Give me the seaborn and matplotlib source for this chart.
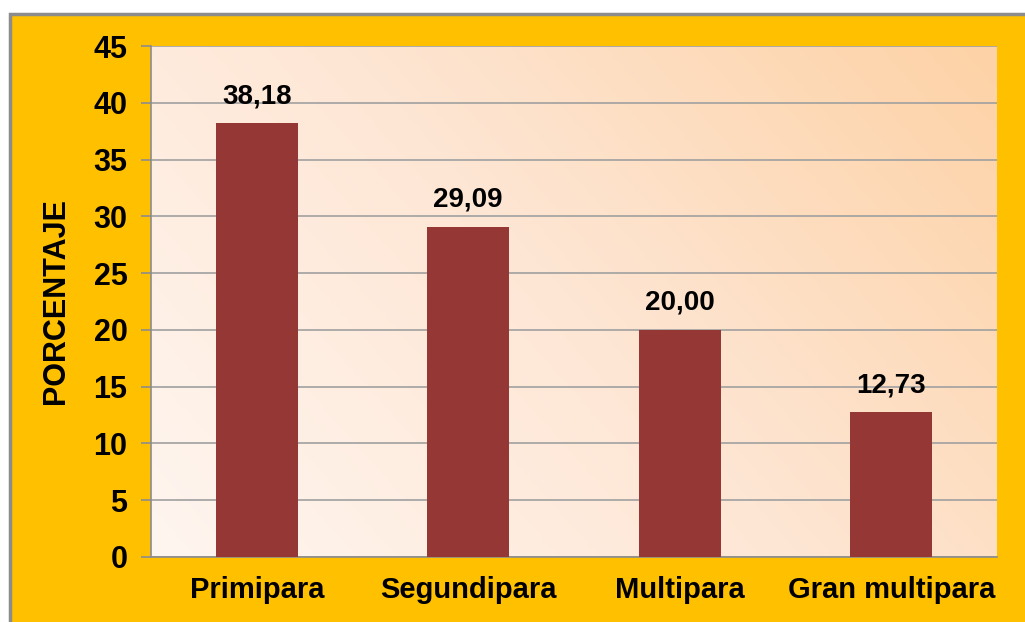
import numpy as np
import pandas as pd
import matplotlib
matplotlib.use('Agg')
import matplotlib.pyplot as plt
from matplotlib.colors import LinearSegmentedColormap
from matplotlib.patches import Rectangle
import seaborn as sns

categories = ['Primipara', 'Segundipara', 'Multipara', 'Gran multipara']
values = [38.18, 29.09, 20.00, 12.73]
value_labels = ['38,18', '29,09', '20,00', '12,73']
y_ticks = [0, 5, 10, 15, 20, 25, 30, 35, 40, 45]

df = pd.DataFrame({'categoria': categories, 'porcentaje': values})

sns.set_theme(style='white')
plt.rcParams['font.family'] = ['Liberation Sans', 'DejaVu Sans']
plt.rcParams['font.weight'] = 'bold'

fig = plt.figure(figsize=(10.25, 6.22), dpi=100, facecolor='white')

# orange frame with grey outline
frame = Rectangle((10 / 1025, -0.05), 1.1, 1 - 14 / 622 + 0.05, transform=fig.transFigure,
                  facecolor='#FFC000', edgecolor='#8C8C8C', linewidth=2.5, zorder=-10)
fig.patches.append(frame)

ax = fig.add_axes([151 / 1025, 1 - 557 / 622, (997 - 151) / 1025, (557 - 46) / 622])
ax.set_facecolor('none')

# gradient background of the plot area
gx, gy = np.meshgrid(np.linspace(0, 1, 300), np.linspace(0, 1, 200))
t = 0.65 * gx + 0.35 * gy
cmap = LinearSegmentedColormap.from_list('peach', ['#FFF6F0', '#FEE6D4', '#FDD2A6'])
ax.imshow(t, cmap=cmap, extent=[-0.5, 3.5, 0, 45], origin='lower', aspect='auto',
          zorder=-2, vmin=0, vmax=1)

sns.barplot(data=df, x='categoria', y='porcentaje', color='#953735', saturation=1,
            width=0.39, ax=ax, zorder=3, edgecolor='none')

for i, (v, lab) in enumerate(zip(values, value_labels)):
    ax.annotate(lab, (i, v), xytext=(0, 10), textcoords='offset points',
                ha='center', va='bottom', fontsize=20, fontweight='bold', color='black')

ax.set_xlim(-0.5, 3.5)
ax.set_ylim(0, 45)
ax.set_yticks(y_ticks)
ax.set_yticklabels([str(v) for v in y_ticks], fontsize=22, fontweight='bold')
ax.yaxis.grid(True, color='#A0A0A0', linewidth=1.2, zorder=0)
ax.set_axisbelow(True)

ax.set_xticks([0, 1, 2, 3])
ax.set_xticklabels(categories, fontsize=21, fontweight='bold')
ax.set_xticks([-0.5, 0.5, 1.5, 2.5, 3.5], minor=True)
ax.tick_params(axis='x', which='major', length=0, pad=14, colors='black')
ax.tick_params(axis='x', which='minor', length=6, width=1.2, color='#8C8C8C', direction='out')
ax.tick_params(axis='y', which='major', length=7, width=1.2, color='#8C8C8C', direction='out',
               pad=10, left=True, labelcolor='black')

for side in ['top', 'right']:
    ax.spines[side].set_visible(False)
for side in ['left', 'bottom']:
    ax.spines[side].set_color('#8C8C8C')
    ax.spines[side].set_linewidth(1.2)

ax.set_xlabel('')
ax.set_ylabel('PORCENTAJE', fontsize=22, fontweight='bold', color='black', labelpad=16)

fig.savefig('out.png', dpi=100, facecolor='white')
